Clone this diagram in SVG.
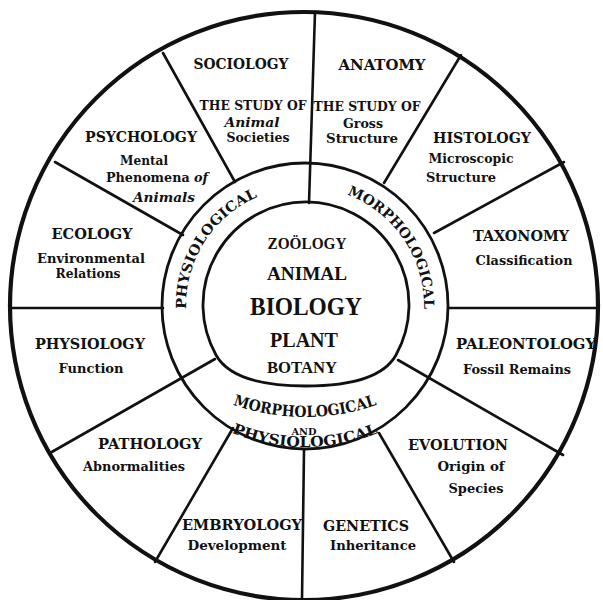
<svg xmlns="http://www.w3.org/2000/svg" width="603" height="600" viewBox="0 0 603 600">
<style>
.t{font-family:"DejaVu Serif","Liberation Serif",serif;font-weight:bold;fill:#111;text-anchor:middle}
.h{font-size:14.5px}
.s{font-size:13px}
.st{font-size:12.5px}
.i{font-style:italic}
.r{font-size:14px}
.c{font-family:"Liberation Serif","DejaVu Serif",serif;font-weight:bold;fill:#111;text-anchor:middle}
.ln{stroke:#111;stroke-width:2.6;fill:none;stroke-linecap:round}
.ring{stroke:#111;stroke-width:2.8;fill:none}
</style>
<defs>
<path id="pPhys" d="M188.8,331.7 A119,119 0 0,1 279.2,189.8"/>
<path id="pMorph" d="M327.7,189.2 A119,119 0 0,1 421.8,328.7"/>
<path id="pMorphB" d="M185,380.8 A217,217 0 0,0 425,380.8"/>
<path id="pPhysB" d="M180,401.7 A195,195 0 0,0 430,401.7"/>
</defs>
<rect width="603" height="600" fill="#fff"/>
<g id="circles">
<circle cx="304" cy="306" r="294" fill="none" stroke="#111" stroke-width="4.2"/>
<circle class="ring" cx="305" cy="306" r="143"/>
<path class="ring" d="M216,355 A103,103 0 1,1 396,355 C383.9,376.8 351,386 306,386 C261,386 228.1,376.8 216,355 Z"/>
</g>
<g id="connectors">
<line class="ln" x1="315" y1="12" x2="309" y2="203"/>
<line class="ln" x1="163" y1="53" x2="235" y2="182"/>
<line class="ln" x1="55" y1="162" x2="183" y2="235"/>
<line class="ln" x1="10" y1="308" x2="163" y2="308"/>
<line class="ln" x1="50" y1="453" x2="215" y2="359"/>
<line class="ln" x1="155" y1="562" x2="233" y2="428"/>
<line class="ln" x1="304" y1="450" x2="302" y2="600"/>
<line class="ln" x1="379" y1="433" x2="454" y2="562"/>
<line class="ln" x1="398" y1="360" x2="563" y2="455"/>
<line class="ln" x1="449" y1="308" x2="598" y2="308"/>
<line class="ln" x1="434" y1="233" x2="564" y2="162"/>
<line class="ln" x1="384" y1="183" x2="461" y2="55"/>
</g>
<g id="sociology">
<text class="t h" x="241" y="69" textLength="95" lengthAdjust="spacingAndGlyphs">SOCIOLOGY</text>
<text class="t st" x="253" y="110" textLength="107" lengthAdjust="spacingAndGlyphs">THE STUDY OF</text>
<text class="t s i" x="252" y="127" textLength="55" lengthAdjust="spacingAndGlyphs">Animal</text>
<text class="t s" x="258" y="142" textLength="63" lengthAdjust="spacingAndGlyphs">Societies</text>
</g>
<g id="anatomy">
<text class="t h" x="382" y="70" textLength="87" lengthAdjust="spacingAndGlyphs">ANATOMY</text>
<text class="t st" x="367" y="111" textLength="107" lengthAdjust="spacingAndGlyphs">THE STUDY OF</text>
<text class="t s" x="363" y="128" textLength="40" lengthAdjust="spacingAndGlyphs">Gross</text>
<text class="t s" x="362" y="143" textLength="72" lengthAdjust="spacingAndGlyphs">Structure</text>
</g>
<g id="histology">
<text class="t h" x="482" y="143" textLength="98" lengthAdjust="spacingAndGlyphs">HISTOLOGY</text>
<text class="t s" x="471" y="163" textLength="85" lengthAdjust="spacingAndGlyphs">Microscopic</text>
<text class="t s" x="461" y="182" textLength="70" lengthAdjust="spacingAndGlyphs">Structure</text>
</g>
<g id="taxonomy">
<text class="t h" x="521" y="241" textLength="96" lengthAdjust="spacingAndGlyphs">TAXONOMY</text>
<text class="t s" x="524" y="265" textLength="97" lengthAdjust="spacingAndGlyphs">Classification</text>
</g>
<g id="paleontology">
<text class="t h" x="526" y="349" textLength="140" lengthAdjust="spacingAndGlyphs">PALEONTOLOGY</text>
<text class="t s" x="517" y="374" textLength="108" lengthAdjust="spacingAndGlyphs">Fossil Remains</text>
</g>
<g id="evolution">
<text class="t h" x="458" y="450" textLength="100" lengthAdjust="spacingAndGlyphs">EVOLUTION</text>
<text class="t s" x="471" y="471" textLength="67" lengthAdjust="spacingAndGlyphs">Origin of</text>
<text class="t s" x="476" y="493" textLength="55" lengthAdjust="spacingAndGlyphs">Species</text>
</g>
<g id="genetics">
<text class="t h" x="366" y="531" textLength="86" lengthAdjust="spacingAndGlyphs">GENETICS</text>
<text class="t s" x="373" y="550" textLength="86" lengthAdjust="spacingAndGlyphs">Inheritance</text>
</g>
<g id="embryology">
<text class="t h" x="242" y="530" textLength="120" lengthAdjust="spacingAndGlyphs">EMBRYOLOGY</text>
<text class="t s" x="237" y="550" textLength="99" lengthAdjust="spacingAndGlyphs">Development</text>
</g>
<g id="pathology">
<text class="t h" x="150" y="449" textLength="104" lengthAdjust="spacingAndGlyphs">PATHOLOGY</text>
<text class="t s" x="134" y="471" textLength="102" lengthAdjust="spacingAndGlyphs">Abnormalities</text>
</g>
<g id="physiology">
<text class="t h" x="90" y="349" textLength="110" lengthAdjust="spacingAndGlyphs">PHYSIOLOGY</text>
<text class="t s" x="91" y="373" textLength="65" lengthAdjust="spacingAndGlyphs">Function</text>
</g>
<g id="ecology">
<text class="t h" x="92" y="239" textLength="81" lengthAdjust="spacingAndGlyphs">ECOLOGY</text>
<text class="t s" x="91" y="263" textLength="108" lengthAdjust="spacingAndGlyphs">Environmental</text>
<text class="t s" x="88" y="278" textLength="65" lengthAdjust="spacingAndGlyphs">Relations</text>
</g>
<g id="psychology">
<text class="t h" x="141" y="142" textLength="112" lengthAdjust="spacingAndGlyphs">PSYCHOLOGY</text>
<text class="t s" x="144" y="165" textLength="48" lengthAdjust="spacingAndGlyphs">Mental</text>
<text class="t s" x="157" y="182" textLength="102" lengthAdjust="spacingAndGlyphs">Phenomena <tspan class="i">of</tspan></text>
<text class="t s i" x="164" y="202" textLength="62" lengthAdjust="spacingAndGlyphs">Animals</text>
</g>
<g id="ring-physiological">
<text class="t r"><textPath href="#pPhys" startOffset="50%" textLength="141" lengthAdjust="spacingAndGlyphs">PHYSIOLOGICAL</textPath></text>
</g>
<g id="ring-morphological">
<text class="t r"><textPath href="#pMorph" startOffset="50%" textLength="147" lengthAdjust="spacingAndGlyphs">MORPHOLOGICAL</textPath></text>
</g>
<g id="ring-morph-and-phys">
<text class="t" style="font-size:15.5px"><textPath href="#pMorphB" startOffset="50%" textLength="147" lengthAdjust="spacingAndGlyphs">MORPHOLOGICAL</textPath></text>
<text class="t" style="font-size:9.5px" x="304" y="435" textLength="25" lengthAdjust="spacingAndGlyphs">AND</text>
<text class="t" style="font-size:14.5px"><textPath href="#pPhysB" startOffset="50%" textLength="150" lengthAdjust="spacingAndGlyphs">PHYSIOLOGICAL</textPath></text>
</g>
<g id="biology">
<text class="c" style="font-size:16px" x="307" y="249" textLength="79" lengthAdjust="spacingAndGlyphs">ZOÖLOGY</text>
<text class="c" style="font-size:19px" x="307" y="280" textLength="80" lengthAdjust="spacingAndGlyphs">ANIMAL</text>
<text class="c" style="font-size:25px" x="306" y="315" textLength="112" lengthAdjust="spacingAndGlyphs">BIOLOGY</text>
<text class="c" style="font-size:20px" x="304" y="347" textLength="68" lengthAdjust="spacingAndGlyphs">PLANT</text>
<text class="c" style="font-size:16.5px" x="302" y="373" textLength="70" lengthAdjust="spacingAndGlyphs">BOTANY</text>
</g>
</svg>
